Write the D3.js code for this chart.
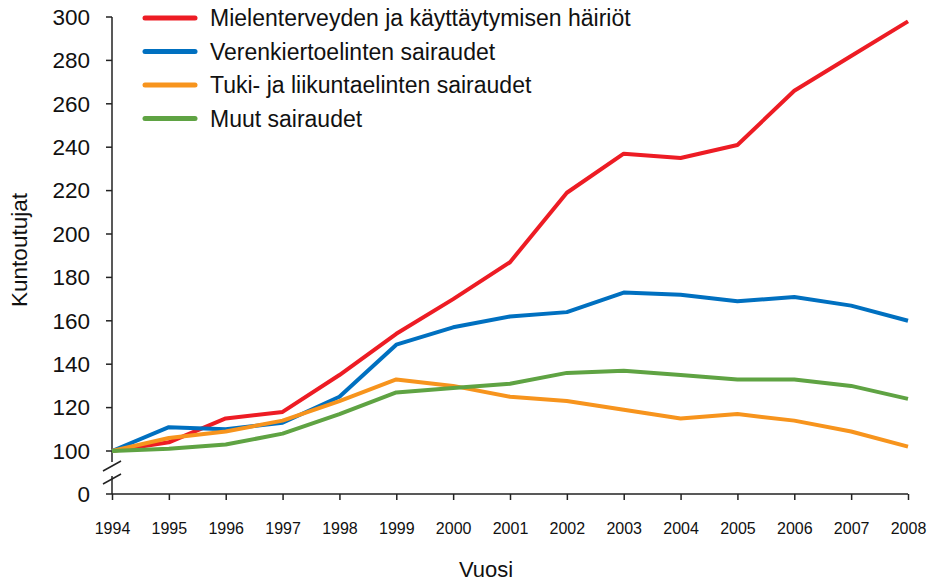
<!DOCTYPE html>
<meta charset="utf-8">
<style>
    body { margin: 0; background: #fff; }
    svg { font-family: "Liberation Sans", Arial, sans-serif; }
    .axis path, .axis line { fill: none; stroke: #222; stroke-width: 1.5; }
</style>
<body>
<script src="https://cdn.jsdelivr.net/npm/d3@7"></script>
<script>
    // data
    const years = [1994, 1995, 1996, 1997, 1998, 1999, 2000, 2001, 2002, 2003, 2004, 2005, 2006, 2007, 2008];
    const seriesNames = ["Mielenterveyden ja käyttäytymisen häiriöt", "Verenkiertoelinten sairaudet",
        "Tuki- ja liikuntaelinten sairaudet", "Muut sairaudet"];
    const mielenterveys = [100, 104, 115, 118, 135, 154, 170, 187, 219, 237, 235, 241, 266, 282, 298];
    const verenkierto = [100, 111, 110, 113, 125, 149, 157, 162, 164, 173, 172, 169, 171, 167, 160];
    const tukiLiikunta = [100, 106, 109, 114, 123, 133, 130, 125, 123, 119, 115, 117, 114, 109, 102];
    const muut = [100, 101, 103, 108, 117, 127, 129, 131, 136, 137, 135, 133, 133, 130, 124];
    const yTicks = [100, 120, 140, 160, 180, 200, 220, 240, 260, 280, 300];
    const colors = ["#ed1c24", "#0070c0", "#f7941d", "#5fa343"];

    const width = 928, height = 581;
    const svg = d3.select('body').append('svg').attr('width', width).attr('height', height);

    const x = d3.scaleLinear().domain([1994, 2008]).range([112, 908]);
    const y = d3.scaleLinear().domain([100, 300]).range([451, 17]);
    const yZero = 494; // position of the 0 below the axis break

    // y axis (with break between 0 and 100)
    const yAxis = svg.append('g').attr('class', 'axis').attr('transform', 'translate(112,0)');
    yAxis.append('line').attr('x1', 0).attr('x2', 0).attr('y1', y(300)).attr('y2', 462);
    yAxis.append('line').attr('x1', 0).attr('x2', 0).attr('y1', 476).attr('y2', yZero);
    yAxis.selectAll('.tick').data(yTicks.concat([0])).enter().append('line')
        .attr('x1', -6).attr('x2', 0)
        .attr('y1', d => d === 0 ? yZero : y(d)).attr('y2', d => d === 0 ? yZero : y(d));
    yAxis.selectAll('.lbl').data(yTicks.concat([0])).enter().append('text')
        .attr('x', -22).attr('y', d => d === 0 ? yZero : y(d)).attr('dy', '0.35em')
        .attr('text-anchor', 'end').style('font-size', '22.5px').attr('fill', '#111').text(d => d);
    // break marks
    yAxis.selectAll('.brk').data([0, 13]).enter().append('line')
        .attr('x1', -9).attr('x2', 9)
        .attr('y1', d => 471 + d).attr('y2', d => 461 + d);

    // x axis
    const xAxis = d3.axisBottom(x).tickValues(years).tickFormat(d3.format('d')).tickSize(6).tickPadding(23);
    svg.append('g').attr('class', 'axis').attr('transform', 'translate(0,' + yZero + ')')
        .call(xAxis)
        .call(g => g.select('.domain').attr('d', 'M112,0H908'))
        .selectAll('text').style('font-size', '16px').attr('fill', '#111');

    // axis titles
    svg.append('text').attr('x', 486).attr('y', 577).attr('text-anchor', 'middle')
        .style('font-size', '22px').attr('fill', '#111').text('Vuosi');
    svg.append('text').attr('transform', 'translate(27,250) rotate(-90)').attr('text-anchor', 'middle')
        .style('font-size', '22.5px').attr('fill', '#111').text('Kuntoutujat');

    // lines
    const line = d3.line().x((d, i) => x(years[i])).y(d => y(d));
    const allSeries = [mielenterveys, verenkierto, tukiLiikunta, muut];
    svg.selectAll('.series').data(allSeries).enter().append('path')
        .attr('d', line).attr('fill', 'none')
        .attr('stroke', (d, i) => colors[i]).attr('stroke-width', 4)
        .attr('stroke-linejoin', 'round');

    // legend
    const legend = svg.selectAll('.legend').data(seriesNames).enter().append('g')
        .attr('transform', (d, i) => 'translate(145,' + (18 + i * 33.5) + ')');
    legend.append('line').attr('x1', 0).attr('x2', 50)
        .attr('stroke', (d, i) => colors[i]).attr('stroke-width', 5).attr('stroke-linecap', 'round');
    legend.append('text').attr('x', 65).attr('dy', '0.35em').style('font-size', '23px')
        .attr('fill', '#111').text(d => d);
</script>
</body>
</html>
